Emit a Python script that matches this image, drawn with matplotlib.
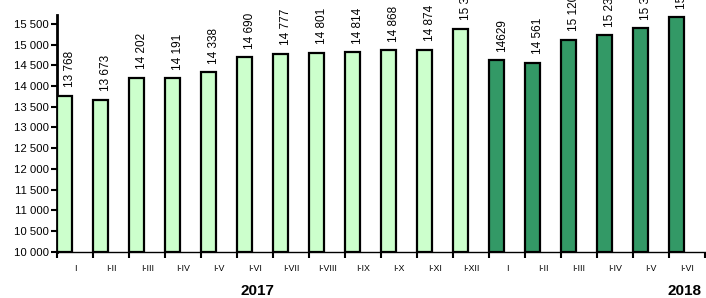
import numpy as np
import matplotlib.pyplot as plt
from matplotlib.ticker import FuncFormatter

plt.rcParams['font.family'] = ['Liberation Sans', 'DejaVu Sans']

# data
periods = ["I", "I-II", "I-III", "I-IV", "I-V", "I-VI", "I-VII", "I-VIII",
           "I-IX", "I-X", "I-XI", "I-XII",
           "I", "I-II", "I-III", "I-IV", "I-V", "I-VI"]
values_2017 = [13768, 13673, 14202, 14191, 14338, 14690, 14777, 14801,
               14814, 14868, 14874, 15379]
values_2018 = [14629, 14561, 15120, 15234, 15396, 15662]
labels_2017 = ["13 768", "13 673", "14 202", "14 191", "14 338", "14 690",
               "14 777", "14 801", "14 814", "14 868", "14 874", "15 379"]
labels_2018 = ["14629", "14 561", "15 120", "15 234", "15 396", "15 662"]

values = values_2017 + values_2018
labels = labels_2017 + labels_2018
colors = ["#CCFFCC"] * len(values_2017) + ["#339966"] * len(values_2018)

fig = plt.figure(figsize=(7.06, 2.98), dpi=100)
ax = fig.add_axes([0.081, 0.155, 0.9175, 0.795])

x = np.arange(len(values))
ax.bar(x, np.array(values) - 10000, bottom=10000, width=0.41, align="edge",
       color=colors, edgecolor="black", linewidth=1.6, zorder=3)

# value labels above the bars (the top ones run off the figure, as in the source)
for xi, v, lab in zip(x, values, labels):
    ax.annotate(lab, (xi + 0.36, v), xytext=(0, 6), textcoords="offset points",
                rotation=90, ha="center", va="bottom", fontsize=8.5,
                annotation_clip=False)

ax.set_xlim(0, len(values))
ax.set_ylim(10000, 15715)
ax.set_yticks(np.arange(10000, 15501, 500))
ax.yaxis.set_major_formatter(FuncFormatter(lambda v, p: f"{int(v):,}".replace(",", " ")))

ax.set_xticks(np.arange(len(values) + 1))
ax.set_xticklabels([])
ax.set_xticks(x + 0.5, minor=True)
ax.set_xticklabels(periods, minor=True, fontsize=6.4)
ax.tick_params(axis="x", which="minor", length=0, pad=9)
ax.tick_params(axis="x", which="major", length=4, width=1.5, direction="out")
ax.tick_params(axis="y", length=4, width=1.5, direction="out", labelsize=8.2, pad=2)

for s in ["top", "right"]:
    ax.spines[s].set_visible(False)
ax.spines["left"].set_linewidth(2)
ax.spines["bottom"].set_linewidth(1)

fig.text(257 / 706, 1 - 291 / 298, "2017", ha="center", va="center",
         fontsize=11, fontweight="bold")
fig.text(685 / 706, 1 - 291 / 298, "2018", ha="center", va="center",
         fontsize=11, fontweight="bold")

fig.savefig("out.png", dpi=100)
